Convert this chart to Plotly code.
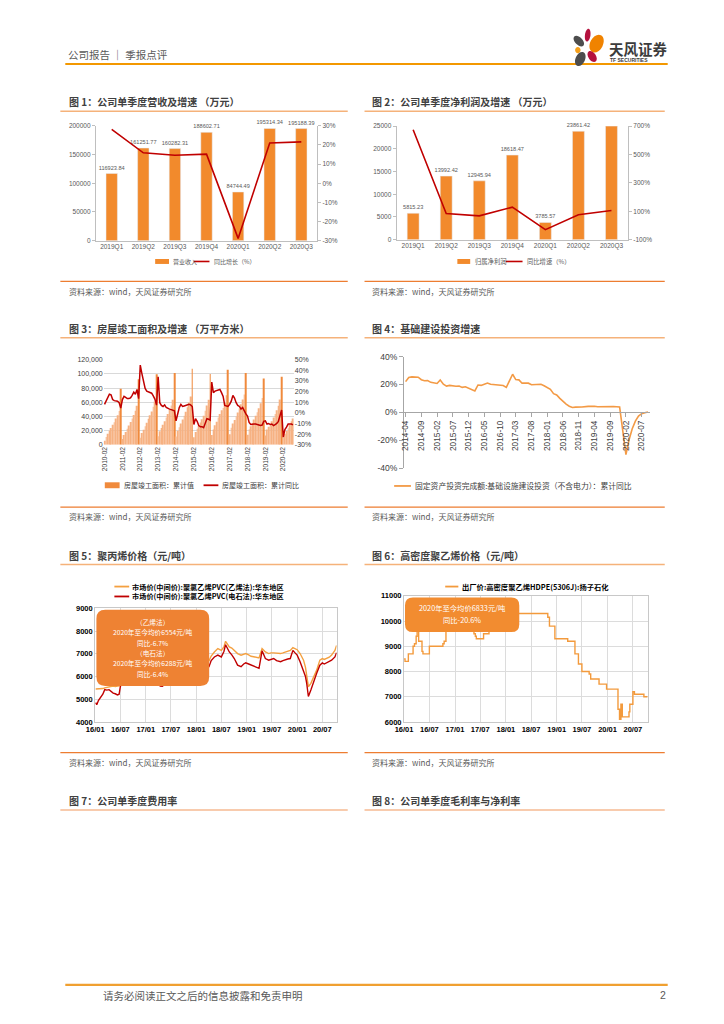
import math
import plotly.graph_objects as go

W, H = 724, 1024
def X(p): return p / W
def Y(p): return 1 - p / H

CJK = "Noto Sans CJK SC"
SANS = "Liberation Sans, Noto Sans CJK SC"
GRAY = "#595959"
DARK = "#404040"

# ---------------- Figure 1 / 2 data ----------------
quarters = ["2019Q1", "2019Q2", "2019Q3", "2019Q4", "2020Q1", "2020Q2", "2020Q3"]
revenue = [116923.84, 161251.77, 160282.31, 188602.71, 84744.49, 195314.34, 195188.39]
revenue_yoy = [28.1, 15.9, 14.6, 15.2, -28.8, 21.0, 21.6]
profit = [5815.23, 13992.42, 12945.94, 18618.47, 3785.57, 23861.42, 25000.00]
profit_labels = ["5815.23", "13992.42", "12945.94", "18618.47", "3785.57", "23861.42", ""]
profit_yoy = [674, 84, 68, 129, -29, 76, 106]

# tick labels
pct1_vals = [-30, -20, -10, 0, 10, 20, 30]
pct1_text = ["-30%", "-20%", "-10%", "0%", "10%", "20%", "30%"]
pct2_vals = [-100, 100, 300, 500, 700]
pct2_text = ["-100%", "100%", "300%", "500%", "700%"]
pct3_vals = [-30, -20, -10, 0, 10, 20, 30, 40, 50]
pct3_text = ["-30%", "-20%", "-10%", "0%", "10%", "20%", "30%", "40%", "50%"]
pct4_vals = [-40, -20, 0, 20, 40]
pct4_text = ["-40%", "-20%", "0%", "20%", "40%"]

# ---------------- Figure 3 data ----------------
months3 = [f"{y}-{m:02d}" for y in range(2010, 2021) for m in range(2, 13)
           if not (y == 2020 and m > 8)]
feb_ticks3 = [f"{y}-02" for y in range(2010, 2021)]
completed_area = [
    5600, 11000, 15500, 19800, 23600, 28000, 31600, 37000, 41600, 47500, 78900,
    8000, 13500, 18000, 22500, 27000, 32000, 37000, 42000, 48000, 55000, 92600,
    9800, 16500, 21000, 26000, 31000, 36500, 41500, 47000, 53500, 61000, 99400,
    12000, 19000, 23500, 28000, 33000, 38500, 43500, 49000, 55500, 63500, 101400,
    11500, 19500, 24500, 30000, 35500, 41000, 46500, 53000, 59500, 68000, 107500,
    10400, 18000, 22500, 26500, 31500, 36000, 41000, 48000, 55500, 63500, 100000,
    13500, 21500, 27500, 32500, 38500, 43500, 48500, 52000, 59000, 70000, 106100,
    14600, 23900, 30100, 34900, 40000, 45500, 51000, 57000, 64000, 71000, 101500,
    14100, 21800, 26000, 30700, 35600, 41000, 46000, 51600, 58500, 66000, 93500,
    12900, 21500, 25400, 29700, 33200, 38400, 43200, 48800, 55100, 63800, 95900,
    9600, 15600, 19300, 23100, 28600, 33000, 37000,
]
completed_yoy = [
    8.0, 11.0, 13.0, 17.5, 17.0, 12.5, 11.5, 11.0, 11.0, 9.5, 4.5,
    12.5, 15.5, 14.5, 13.5, 13.5, 14.0, 16.5, 19.5, 17.5, 22.0, 13.3,
    45.0, 37.0, 30.0, 23.0, 20.5, 20.0, 19.5, 18.5, 16.0, 13.0, 7.3,
    34.0, 9.5, 7.0, 6.0, 7.5, 5.0, 4.0, 3.5, 3.0, 2.5, 2.0,
    -7.5, -1.5, 5.0, 8.0, 6.0, 6.5, 7.0, 8.0, 8.0, 7.5, 5.9,
    -11.0, -5.5, -8.0, -12.0, -13.0, -13.0, -14.0, -10.0, -5.5, -6.0, -6.9,
    29.0, 19.0, 20.5, 21.0, 21.0, 22.0, 19.0, 15.5, 7.0, 6.5, 6.1,
    8.0, 11.0, 16.5, 14.0, 9.5, 7.0, 6.0, 3.5, 5.0, 1.5, -1.0,
    -3.0, -9.0, -11.0, -10.5, -10.5, -10.5, -11.0, -12.0, -12.0, -11.5, -8.0,
    -7.5, -10.5, -10.0, -11.0, -10.5, -12.0, -11.0, -10.0, -8.0, -1.5, 2.6,
    -22.9, -15.8, -13.5, -10.6, -10.5, -10.5, -11.4,
]

# ---------------- Figure 4 data ----------------
months4 = [f"{y}-{m:02d}" for y in range(2014, 2021) for m in range(1, 13)
           if (2014, 4) <= (y, m) <= (2020, 9)]
ticks4 = months4[::5]
infra_yoy = [
    22.0, 25.0, 25.4, 25.3, 25.2, 23.4, 22.6, 22.8, 21.5,
    None, 20.7, 23.2, 20.2, 18.8, 19.3, 18.8, 18.7, 18.9, 17.9, 18.3, 17.2,
    None, 15.3, 19.6, 19.3, 20.2, 21.0, 20.1, 19.9, 19.9, 19.8, 19.2, 17.9,
    None, 27.3, 23.5, 23.3, 20.9, 21.1, 20.9, 19.8, 19.8, 20.1, 20.1, 19.0,
    None, 16.5, 13.4, 12.5, 10.0, 7.6, 5.9, 4.4, 3.5, 3.7, 3.7, 3.8,
    None, 4.3, 4.4, 4.4, 4.0, 4.1, 3.8, 4.2, 4.5, 4.2, 4.0, 3.8,
    None, -30.3, -19.7, -11.8, -6.3, -2.7, -1.0, -0.3, 0.2,
]

# ---------------- Figure 5 data ----------------
pvc_dates = [
    "2016-01-04", "2016-01-12", "2016-01-25", "2016-02-10", "2016-02-25", "2016-03-10",
    "2016-03-25", "2016-04-10", "2016-04-25", "2016-05-10", "2016-05-25", "2016-06-10",
    "2016-06-22", "2016-07-01", "2016-07-15", "2016-08-01", "2016-08-15", "2016-09-01",
    "2016-09-15", "2016-10-01", "2016-10-15", "2016-11-01", "2016-11-15", "2016-12-01",
    "2016-12-15", "2017-01-01", "2017-01-15", "2017-02-01", "2017-02-15", "2017-03-01",
    "2017-03-15", "2017-04-01", "2017-04-15", "2017-05-01", "2017-05-15", "2017-06-01",
    "2017-06-15", "2017-07-01", "2017-07-15", "2017-08-01", "2017-08-15", "2017-09-01",
    "2017-09-15", "2017-10-01", "2017-10-15", "2017-11-01", "2017-11-15", "2017-12-01",
    "2017-12-15", "2018-01-01", "2018-01-15", "2018-02-01", "2018-02-15", "2018-03-01",
    "2018-03-15", "2018-04-03", "2018-04-19", "2018-05-12", "2018-06-06", "2018-07-01",
    "2018-07-20", "2018-08-01", "2018-08-16", "2018-08-28", "2018-09-15", "2018-10-03",
    "2018-10-27", "2018-11-21", "2018-12-10", "2018-12-25", "2019-01-15", "2019-02-01",
    "2019-02-20", "2019-03-06", "2019-03-31", "2019-04-22", "2019-05-05", "2019-05-16",
    "2019-06-09", "2019-06-25", "2019-07-15", "2019-08-05", "2019-08-20", "2019-09-03",
    "2019-09-20", "2019-10-07", "2019-10-25", "2019-11-12", "2019-12-01", "2019-12-15",
    "2020-01-01", "2020-01-22", "2020-02-16", "2020-03-01", "2020-03-10", "2020-03-22",
    "2020-04-09", "2020-04-28", "2020-05-10", "2020-05-21", "2020-06-13", "2020-07-01",
    "2020-07-15", "2020-08-01", "2020-08-20", "2020-09-06", "2020-09-30", "2020-10-12",
]
pvc_ethylene = [
    5450, 5450, 5440, 5450, 5470, 5500, 5520, 5540, 5560, 5580, 5560, 5570,
    5590, 5620, 5750, 5900, 6050, 6250, 6500, 6750, 7050, 7600, 7900, 7300,
    6800, 6650, 6700, 6800, 6700, 6500, 6300, 6100, 5950, 5880, 5900, 6100,
    6200, 6400, 6600, 6900, 7100, 7300, 7000, 6800, 6700, 6600, 6500, 6550,
    6600, 6700, 6650, 6700, 6750, 6700, 6650, 6690, 6900, 7080, 7230, 7150,
    7300, 7550, 7400, 7300, 7250, 7150, 7010, 6940, 6980, 7010, 6950, 6890,
    6870, 6860, 6820, 7230, 7150, 7080, 7010, 7040, 7040, 7020, 7030, 7010,
    7040, 7070, 7100, 7150, 7270, 7230, 7180, 7010, 6720, 6400, 5990, 5550,
    5700, 5990, 6150, 6280, 6720, 6790, 6750, 6790, 6850, 6940, 7150, 7370,
]
pvc_carbide = [
    4850, 4760, 4950, 5100, 5220, 5420, 5400, 5420, 5330, 5270, 5240, 5190,
    5220, 5560, 5700, 5900, 6100, 6300, 6600, 6800, 7100, 7700, 8000, 7000,
    6400, 6300, 6400, 6500, 6400, 6100, 5900, 5700, 5580, 5570, 5650, 5850,
    6000, 6200, 6450, 6700, 6950, 7150, 6800, 6500, 6350, 6250, 6150, 6250,
    6350, 6500, 6400, 6450, 6500, 6450, 6400, 6430, 6700, 6860, 6940, 6860,
    7100, 7400, 7200, 7080, 6950, 6790, 6500, 6430, 6550, 6600, 6550, 6500,
    6460, 6430, 6360, 7130, 6900, 6790, 6720, 6760, 6790, 6700, 6680, 6650,
    6700, 6750, 6770, 6790, 7150, 7050, 6940, 6650, 6280, 6000, 5700, 5120,
    5410, 5700, 5950, 6140, 6500, 6600, 6550, 6600, 6650, 6720, 6860, 7050,
]

# ---------------- Figure 6 data ----------------
hdpe_dates = [
    "2016-01-01", "2016-01-08", "2016-02-01", "2016-03-06", "2016-03-16", "2016-03-28",
    "2016-04-04", "2016-04-15", "2016-05-09", "2016-05-16", "2016-07-01", "2016-10-06",
    "2016-10-15", "2016-10-28", "2016-11-15", "2016-12-15", "2017-01-15", "2017-02-15",
    "2017-03-15", "2017-04-15", "2017-05-17", "2017-05-27", "2017-06-03", "2017-07-25",
    "2017-09-02", "2017-10-01", "2017-11-01", "2017-12-01", "2018-01-15", "2018-03-01",
    "2018-03-25", "2018-10-29", "2018-11-10", "2018-12-19", "2019-03-21", "2019-05-12",
    "2019-06-06", "2019-07-01", "2019-08-22", "2019-09-02", "2019-11-01", "2019-12-25",
    "2020-03-16", "2020-03-27", "2020-04-06", "2020-04-16", "2020-06-03", "2020-06-09",
    "2020-07-01", "2020-07-12", "2020-09-18", "2020-10-15",
]
hdpe_price = [
    8500, 8400, 8700, 9000, 9100, 9400, 9700, 9200, 8800, 8700, 9000, 9100,
    9200, 9900, 10200, 10500, 10300, 10100, 9900, 9700, 9500, 9400, 9300, 9500,
    9800, 10000, 10200, 10400, 10200, 10100, 10300, 10150, 9800, 9300, 9200, 8700,
    8300, 8000, 7900, 7700, 7500, 7300, 6500, 6100, 6700, 6200, 6400, 6700,
    7200, 7100, 7000, 7000,
]

# ---------------- colours ----------------
BAR_ORANGE = "#F28A2C"
LINE_RED = "#C00000"
AREA_BAR = "#F6B283"
AREA_BAR_DEC = "#F08A3C"
INFRA_ORANGE = "#F39A45"
PVC_ORANGE = "#F4A040"
HDPE_ORANGE = "#F39A3C"

area_colors = [AREA_BAR_DEC if m.endswith("-12") else AREA_BAR for m in months3]

fig = go.Figure()

# Chart 1
fig.add_trace(go.Bar(x=quarters, y=revenue, xaxis="x", yaxis="y", marker_color=BAR_ORANGE,
                     width=0.36, text=[f"{v:.2f}" for v in revenue], textposition="outside",
                     cliponaxis=False, constraintext="none",
                     textfont=dict(size=5.6, color=GRAY, family=SANS)))
fig.add_trace(go.Scatter(x=quarters, y=revenue_yoy, xaxis="x", yaxis="y2", mode="lines",
                         line=dict(color=LINE_RED, width=1.6)))
# Chart 2
fig.add_trace(go.Bar(x=quarters, y=profit, xaxis="x2", yaxis="y3", marker_color=BAR_ORANGE,
                     width=0.36, text=profit_labels, textposition="outside",
                     cliponaxis=False, constraintext="none",
                     textfont=dict(size=5.6, color=GRAY, family=SANS)))
fig.add_trace(go.Scatter(x=quarters, y=profit_yoy, xaxis="x2", yaxis="y4", mode="lines",
                         line=dict(color=LINE_RED, width=1.6)))
# Chart 3
fig.add_trace(go.Bar(x=months3, y=completed_area, xaxis="x3", yaxis="y5",
                     marker=dict(color=area_colors, line=dict(width=0)), width=0.5))
fig.add_trace(go.Scatter(x=months3, y=completed_yoy, xaxis="x3", yaxis="y6", mode="lines",
                         line=dict(color=LINE_RED, width=1.5)))
# Chart 4
fig.add_trace(go.Scatter(x=months4, y=infra_yoy, xaxis="x4", yaxis="y7", mode="lines",
                         connectgaps=True, line=dict(color=INFRA_ORANGE, width=1.6)))
# Chart 5
fig.add_trace(go.Scatter(x=pvc_dates, y=pvc_ethylene, xaxis="x5", yaxis="y8", mode="lines",
                         line=dict(color=PVC_ORANGE, width=1.4)))
fig.add_trace(go.Scatter(x=pvc_dates, y=pvc_carbide, xaxis="x5", yaxis="y8", mode="lines",
                         line=dict(color=LINE_RED, width=1.4)))
# Chart 6
fig.add_trace(go.Scatter(x=hdpe_dates, y=hdpe_price, xaxis="x6", yaxis="y9", mode="lines",
                         line=dict(color=HDPE_ORANGE, width=1.4, shape="hv")))


def xdom(a, b):
    return [X(a), X(b)]


def ydom(top, bottom):
    return [Y(bottom), Y(top)]


small = dict(size=6.5, color=GRAY, family=SANS)
axline = dict(showline=True, linecolor="#BFBFBF", linewidth=1, showgrid=False, zeroline=False)
boldtick = dict(size=7.5, color="#000000", family=SANS, weight="bold")

layout = dict(
    width=W, height=H, autosize=False, margin=dict(l=0, r=0, t=0, b=0),
    paper_bgcolor="white", plot_bgcolor="white", showlegend=False,
    # chart 1
    xaxis=dict(domain=xdom(88, 312), anchor="y", type="category", tickfont=small, ticks="", **axline),
    yaxis=dict(domain=ydom(122, 238), anchor="x", range=[0, 200000], dtick=50000, tickformat="d",
               ticks="outside", ticklen=3, tickcolor="#BFBFBF", tickfont=small, **axline),
    yaxis2=dict(overlaying="y", side="right", anchor="x", range=[-30, 30],
                tickmode="array", tickvals=pct1_vals, ticktext=pct1_text,
                ticks="outside", ticklen=3, tickcolor="#BFBFBF", tickfont=small, **axline),
    # chart 2
    xaxis2=dict(domain=xdom(392.5, 626.8), anchor="y3", type="category", tickfont=small, ticks="", **axline),
    yaxis3=dict(domain=ydom(122.3, 237), anchor="x2", range=[0, 25000], dtick=5000, tickformat="d",
                ticks="outside", ticklen=3, tickcolor="#BFBFBF", tickfont=small, **axline),
    yaxis4=dict(overlaying="y3", side="right", anchor="x2", range=[-100, 700],
                tickmode="array", tickvals=pct2_vals, ticktext=pct2_text,
                ticks="outside", ticklen=3, tickcolor="#BFBFBF", tickfont=small, **axline),
    # chart 3
    xaxis3=dict(domain=xdom(95.9, 288.4), anchor="y5", type="category", range=[-0.5, 116.5],
                tickmode="array", tickvals=feb_ticks3, ticktext=feb_ticks3, tickangle=-90,
                tickfont=dict(size=6.6, color=DARK, family=SANS), showgrid=False, zeroline=False,
                showline=False, ticks=""),
    yaxis5=dict(domain=ydom(358.3, 444), anchor="x3", range=[0, 120000], dtick=20000, tickformat=",",
                showgrid=True, gridcolor="#D9D9D9", gridwidth=1, zeroline=False, showline=False,
                tickfont=dict(size=7, color=DARK, family=SANS)),
    yaxis6=dict(overlaying="y5", side="right", anchor="x3", range=[-30, 50],
                tickmode="array", tickvals=pct3_vals, ticktext=pct3_text,
                showgrid=False, zeroline=False, showline=False,
                tickfont=dict(size=7, color=DARK, family=SANS)),
    # chart 4
    xaxis4=dict(domain=xdom(400, 648.6), anchor="free", position=Y(411.3), type="category",
                range=[-0.5, 77.5], tickmode="array", tickvals=ticks4, ticktext=ticks4, tickangle=-90,
                tickfont=dict(size=8.3, color=DARK, family=SANS), showline=True, linecolor="#A6A6A6",
                ticks="outside", ticklen=4, tickcolor="#A6A6A6", showgrid=False, zeroline=False),
    yaxis7=dict(domain=ydom(355, 467.7), anchor="x4", range=[-40, 40],
                tickmode="array", tickvals=pct4_vals, ticktext=pct4_text,
                showline=True, linecolor="#A6A6A6", ticks="outside", ticklen=4, tickcolor="#A6A6A6",
                showgrid=False, zeroline=False, tickfont=dict(size=8.5, color=DARK, family=SANS)),
    # chart 5
    xaxis5=dict(domain=xdom(87.3, 331.7), anchor="y8", type="date", range=["2016-01-01", "2020-10-12"],
                tick0="2016-01-01", dtick="M6", tickformat="%y/%m", showgrid=True, gridcolor="#DCDCDC",
                showline=True, mirror=True, linecolor="#C8C8C8", zeroline=False, ticks="",
                tickfont=boldtick),
    yaxis8=dict(domain=ydom(609.3, 724), anchor="x5", range=[4000, 9000], dtick=1000, tickformat="d",
                showgrid=True, gridcolor="#DCDCDC", showline=True, mirror=True, linecolor="#C8C8C8",
                zeroline=False, ticks="", tickfont=boldtick),
    # chart 6
    xaxis6=dict(domain=xdom(400, 646.7), anchor="y9", type="date", range=["2016-01-01", "2020-10-15"],
                tick0="2016-01-01", dtick="M6", tickformat="%y/%m", showgrid=True, gridcolor="#DCDCDC",
                showline=True, mirror=True, linecolor="#C8C8C8", zeroline=False, ticks="",
                tickfont=boldtick),
    yaxis9=dict(domain=ydom(596.7, 724), anchor="x6", range=[6000, 11000], dtick=1000, tickformat="d",
                showgrid=True, gridcolor="#DCDCDC", showline=True, mirror=True, linecolor="#C8C8C8",
                zeroline=False, ticks="", tickfont=boldtick),
)

shapes = []
anns = []


def hline(x0, x1, y, color, width):
    shapes.append(dict(type="line", xref="paper", yref="paper", x0=X(x0), x1=X(x1), y0=Y(y), y1=Y(y),
                       line=dict(color=color, width=width), layer="above"))


def rect(x0, y0, x1, y1, color):
    shapes.append(dict(type="rect", xref="paper", yref="paper", x0=X(x0), x1=X(x1), y0=Y(y1), y1=Y(y0),
                       fillcolor=color, line=dict(width=0), layer="above"))


def rrect(x0, y0, x1, y1, r, color):
    def P(a, b):
        return f"{X(a):.5f},{Y(b):.5f}"
    path = (f"M {P(x0 + r, y0)} L {P(x1 - r, y0)} Q {P(x1, y0)} {P(x1, y0 + r)} "
            f"L {P(x1, y1 - r)} Q {P(x1, y1)} {P(x1 - r, y1)} L {P(x0 + r, y1)} "
            f"Q {P(x0, y1)} {P(x0, y1 - r)} L {P(x0, y0 + r)} Q {P(x0, y0)} {P(x0 + r, y0)} Z")
    shapes.append(dict(type="path", xref="paper", yref="paper", path=path, fillcolor=color,
                       line=dict(width=0), layer="above"))


def ellipse(cx, cy, rx, ry, ang, color):
    k = 0.5523
    a = math.radians(ang)

    def P(u, v):
        xx = cx + u * math.cos(a) - v * math.sin(a)
        yy = cy + u * math.sin(a) + v * math.cos(a)
        return f"{X(xx):.5f},{Y(yy):.5f}"
    path = (f"M {P(rx, 0)} C {P(rx, k * ry)} {P(k * rx, ry)} {P(0, ry)} "
            f"C {P(-k * rx, ry)} {P(-rx, k * ry)} {P(-rx, 0)} "
            f"C {P(-rx, -k * ry)} {P(-k * rx, -ry)} {P(0, -ry)} "
            f"C {P(k * rx, -ry)} {P(rx, -k * ry)} {P(rx, 0)} Z")
    shapes.append(dict(type="path", xref="paper", yref="paper", path=path, fillcolor=color,
                       line=dict(width=0), layer="above"))


def txt(x, y, s, size, color=DARK, anchor="left", family=SANS, bold=False):
    anns.append(dict(x=X(x), y=Y(y), xref="paper", yref="paper", text=(f"<b>{s}</b>" if bold else s),
                     showarrow=False, xanchor=anchor, yanchor="middle",
                     font=dict(size=size, color=color, family=family)))


# ---- header ----
txt(58, 50, "公司报告 ｜ 季报点评", 10.5, GRAY, family=CJK)
hline(57, 667, 59.5, "#F39800", 2)
ellipse(586, 30.5, 2.8, 6.5, 8, "#B5123E")
ellipse(595, 39, 6.5, 9.5, 28, "#F08300")
ellipse(577, 36.5, 3.8, 6.5, -45, "#4D4D4D")
ellipse(576, 45.5, 2.8, 3.2, 0, "#F6A01A")
ellipse(578.5, 54.5, 4.8, 7.5, 25, "#4D4D4D")
ellipse(590.5, 52, 3.8, 6.2, -35, "#B5123E")
txt(606, 44, "天风证券", 14.5, "#3C3C3C", family=CJK, bold=True)
txt(607, 56, "TF SECURITIES", 5, "#3C3C3C", family=SANS, bold=True)

# ---- titles ----
TITLE_LINE = "#F5B27A"
titles = [
    (59, 97.3, "图 1：公司单季度营收及增速 （万元）"), (366, 97.3, "图 2：公司单季度净利润及增速 （万元）"),
    (59, 327, "图 3：房屋竣工面积及增速 （万平方米）"), (366, 327, "图 4：基础建设投资增速"),
    (59, 555.7, "图 5：聚丙烯价格（元/吨）"), (366, 555.7, "图 6：高密度聚乙烯价格（元/吨）"),
    (59, 803, "图 7：公司单季度费用率"), (366, 803, "图 8：公司单季度毛利率与净利率"),
]
for (tx, ty, s) in titles:
    txt(tx, ty, s, 10, DARK, family=CJK, bold=True)
for y in (107.3, 336, 565):
    hline(52, 343, y, TITLE_LINE, 1.5)
    hline(360, 664, y, TITLE_LINE, 1.5)
hline(52, 343, 813, "#F8CBAD", 2)
hline(360, 664, 813, "#F8CBAD", 2)

# ---- source lines ----
for (ly, ty) in ((279, 289), (507, 517), (755, 765)):
    hline(52, 343, ly, "#ED7D31", 1.2)
    hline(360, 664, ly, "#ED7D31", 1.2)
    txt(59, ty, "资料来源：wind，天风证券研究所", 8, GRAY, family=CJK)
    txt(366, ty, "资料来源：wind，天风证券研究所", 8, GRAY, family=CJK)

# ---- legends ----
rect(148, 256.5, 162, 261.5, BAR_ORANGE)
txt(164.5, 259, "营业收入", 6, GRAY, family=CJK)
hline(187, 203, 259, LINE_RED, 1.6)
txt(205.5, 259, "同比增长（%）", 6, GRAY, family=CJK)

rect(454, 256.5, 467, 261.5, BAR_ORANGE)
txt(469.5, 259, "归属净利润", 6.3, GRAY, family=CJK)
hline(503, 520, 259, LINE_RED, 1.6)
txt(522.5, 259, "同比增速（%）", 6.3, GRAY, family=CJK)

rect(97, 482, 112, 488, AREA_BAR_DEC)
txt(114, 485, "房屋竣工面积：累计值", 7, DARK, family=CJK)
hline(197, 212, 485, LINE_RED, 1.8)
txt(214, 485, "房屋竣工面积：累计同比", 7, DARK, family=CJK)

hline(390, 407, 485.7, INFRA_ORANGE, 1.8)
txt(409.5, 485.7, "固定资产投资完成额:基础设施建设投资（不含电力）：累计同比", 7.8, DARK, family=CJK)

hline(106.7, 121.7, 587.3, PVC_ORANGE, 1.8)
txt(123, 587.3, "市场价(中间价):聚氯乙烯PVC(乙烯法):华东地区", 7.2, "#000000", family=CJK, bold=True)
hline(106.7, 121.7, 597.3, LINE_RED, 1.8)
txt(123, 597.3, "市场价(中间价):聚氯乙烯PVC(电石法):华东地区", 7.2, "#000000", family=CJK, bold=True)

hline(441.7, 455, 587.3, HDPE_ORANGE, 1.8)
txt(456.5, 587.3, "出厂价:高密度聚乙烯HDPE(5306J):扬子石化", 7.3, "#000000", family=CJK, bold=True)

# ---- callout boxes ----
rrect(88.5, 610.7, 202.7, 687.7, 9, "#EE8233")
box5 = [(623.3, "（乙烯法）"), (633.0, "2020年至今均价6554元/吨"), (643.9, "同比-6.7%"),
        (654.3, "（电石法）"), (664.5, "2020年至今均价6288元/吨"), (675.6, "同比-6.4%")]
for (by, s) in box5:
    txt(145.6, by, s, 6.7, "white", anchor="center", family=CJK)

rrect(401, 598.3, 516.7, 633.3, 8, "#F28C30")
txt(458.8, 609.3, "2020年至今均价6833元/吨", 7.3, "white", anchor="center", family=CJK)
txt(458.8, 621.2, "同比-20.6%", 7.3, "white", anchor="center", family=CJK)

# ---- footer ----
hline(57, 667, 989.5, "#F0A030", 2.2)
txt(93, 1000, "请务必阅读正文之后的信息披露和免责申明", 10.5, GRAY, family=CJK)
txt(667, 1000, "2", 10.5, GRAY, anchor="right", family=SANS)

layout["shapes"] = shapes
layout["annotations"] = anns
fig.update_layout(**layout)

fig.write_html("out.html", config={"displayModeBar": False},
               post_script="document.body.style.margin='0';document.body.style.overflow='hidden';")
